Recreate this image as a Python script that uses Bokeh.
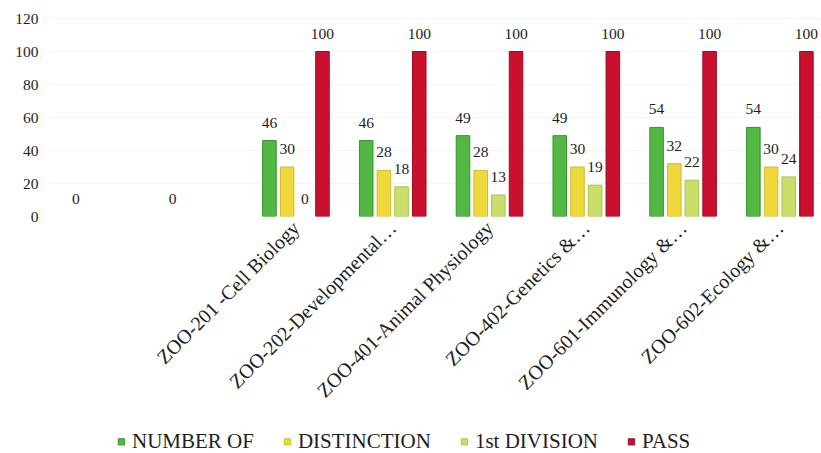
import math
from bokeh.plotting import figure
from bokeh.layouts import column
from bokeh.models import ColumnDataSource, FixedTicker, Legend, LegendItem
from bokeh.core.properties import value
from bokeh.embed import file_html
from bokeh.resources import INLINE

categories = ["", "", "ZOO-201 -Cell Biology", "ZOO-202-Developmental…",
              "ZOO-401-Animal Physiology", "ZOO-402-Genetics &…",
              "ZOO-601-Immunology &…", "ZOO-602-Ecology &…"]
number_of = [0, 0, 46, 46, 49, 49, 54, 54]
distinction = [None, None, 30, 28, 28, 30, 32, 30]
first_division = [None, None, 0, 18, 13, 19, 22, 24]
pass_pct = [None, None, 100, 100, 100, 100, 100, 100]
series_names = ["NUMBER OF", "DISTINCTION", "1st DIVISION", "PASS"]
y_ticks = [0, 20, 40, 60, 80, 100, 120]

series = [number_of, distinction, first_division, pass_pct]
fills = ["#53b843", "#eed83c", "#cadf6a", "#c9102f"]
lines = ["#33922c", "#d2bc2c", "#a9c24c", "#9e0c24"]
offsets = [-0.274, -0.091, 0.091, 0.274]
bar_w = 0.14

SERIF = "Liberation Serif"

FRAME_L = 50
p = figure(width=821, height=429,
           x_range=(-0.536, 7.43), y_range=(0, 127.9),
           output_backend="svg", toolbar_location=None,
           min_border_left=FRAME_L, min_border_right=0, min_border_top=5,
           min_border_bottom=213)
p.outline_line_color = None
p.background_fill_color = "white"

xs = list(range(len(categories)))
for name, vals, fc, lc, off in zip(series_names, series, fills, lines, offsets):
    px, py, lab, la = [], [], [], []
    for i, v in zip(xs, vals):
        if v is None:
            continue
        px.append(i + off)
        py.append(v)
        lab.append(str(v))
        la.append(1.0 if v > 0 else 0.0)
    src = ColumnDataSource(dict(x=px, top=py, lab=lab, la=la))
    p.vbar(x="x", top="top", bottom=0, width=bar_w, source=src,
           fill_color=fc, line_color=lc, line_width=1, line_alpha="la")
    p.text(x="x", y="top", text="lab", source=src, text_align="center",
           text_baseline="middle", y_offset=-18,
           text_font=value(SERIF), text_font_size="15.5px", text_color="#1e1e1e")

# axes
p.xaxis.ticker = FixedTicker(ticks=xs)
p.xaxis.major_label_overrides = {i: c for i, c in zip(xs, categories)}
p.xaxis.major_label_orientation = math.pi / 4
p.xaxis.major_label_text_font = SERIF
p.xaxis.major_label_text_font_size = "20px"
p.xaxis.major_label_text_color = "#1e1e1e"
p.xaxis.axis_line_color = None
p.xaxis.major_tick_line_color = None
p.xaxis.minor_tick_line_color = None
p.xaxis.major_tick_out = 0
p.xaxis.major_label_standoff = 8

p.yaxis.ticker = FixedTicker(ticks=y_ticks)
p.yaxis.major_label_text_font = SERIF
p.yaxis.major_label_text_font_size = "15.5px"
p.yaxis.major_label_text_color = "#1e1e1e"
p.yaxis.axis_line_color = None
p.yaxis.major_tick_line_color = None
p.yaxis.minor_tick_line_color = None
p.yaxis.major_tick_out = 0
p.yaxis.major_label_standoff = 12

p.xgrid.grid_line_color = None
p.ygrid.grid_line_color = "#f4f4f4"

# legend strip (proxy renderers sit outside the visible range)
lg = figure(width=821, height=24, x_range=(0, 1), y_range=(0, 1),
            output_backend="svg", toolbar_location=None,
            min_border_left=0, min_border_right=0, min_border_top=0,
            min_border_bottom=0)
lg.axis.visible = False
lg.grid.visible = False
lg.outline_line_color = None
items = []
for name, fc, lc in zip(series_names, fills, lines):
    r = lg.vbar(x=[-5], top=[-5], bottom=-6, width=0.1,
                fill_color=fc, line_color=lc, line_width=1)
    items.append(LegendItem(label=name, renderers=[r]))
legend = Legend(items=items, orientation="horizontal", location="center_left",
                glyph_width=8, glyph_height=8, label_standoff=7, spacing=29,
                padding=0, margin=67, border_line_color=None,
                background_fill_alpha=0,
                label_text_font=SERIF, label_text_font_size="21px",
                label_text_color="#1e1e1e")
lg.add_layout(legend)

layout = column(p, lg, spacing=0)
open("out.html", "w").write(file_html(layout, INLINE))
